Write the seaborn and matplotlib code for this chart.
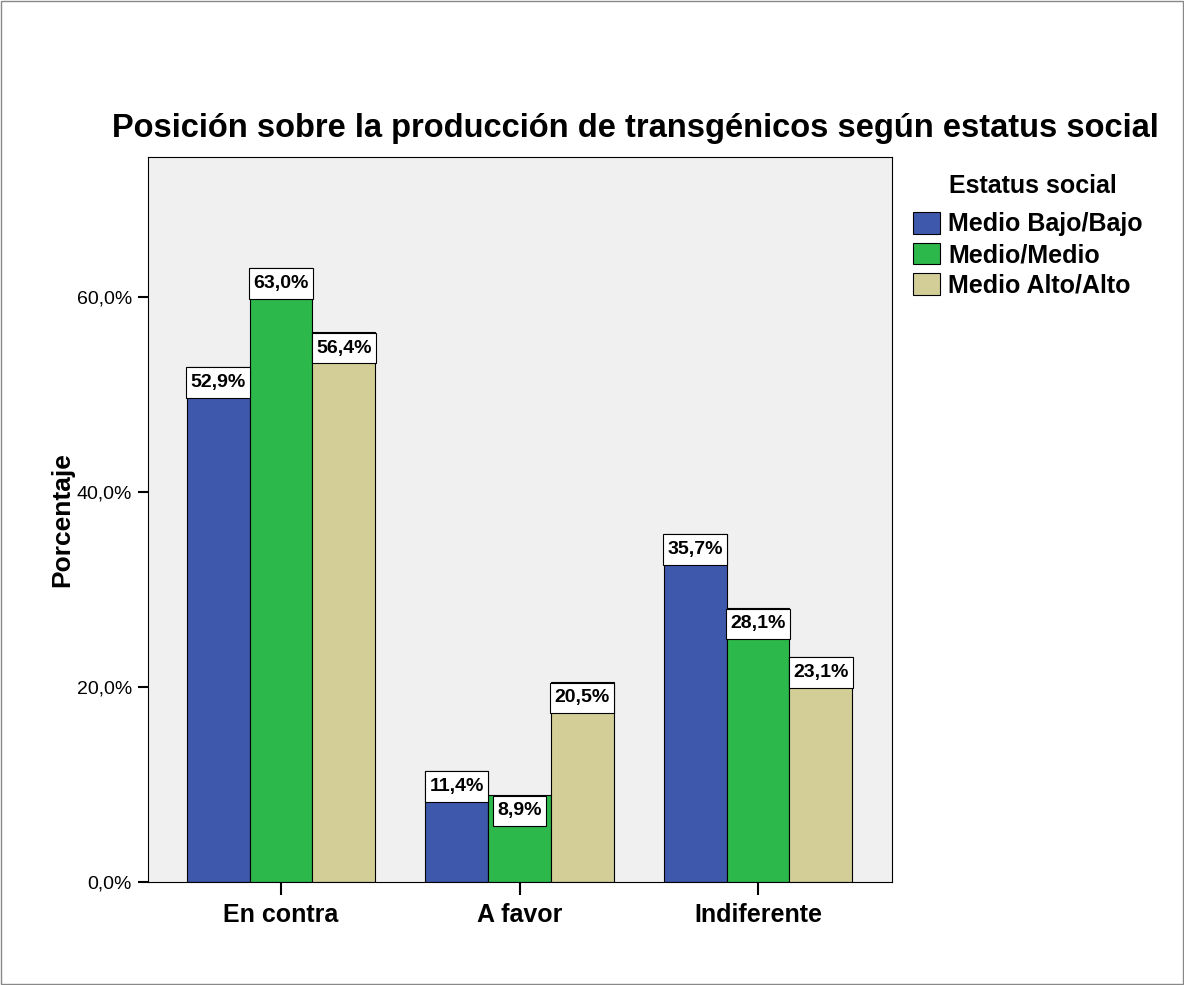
import pandas as pd
import matplotlib.pyplot as plt
import matplotlib.patches as mpatches
import seaborn as sns

# Datos
posiciones = ["En contra", "A favor", "Indiferente"]
estatus = ["Medio Bajo/Bajo", "Medio/Medio", "Medio Alto/Alto"]
medio_bajo = [52.9, 11.4, 35.7]
medio = [63.0, 8.9, 28.1]
medio_alto = [56.4, 20.5, 23.1]
yticks = [0, 20, 40, 60]
colores = ["#3E58AC", "#2DB84B", "#D3CE98"]

df = pd.DataFrame({
    "Posicion": posiciones * 3,
    "Estatus": [e for e in estatus for _ in posiciones],
    "Porcentaje": medio_bajo + medio + medio_alto,
})

sns.set_style("white")
plt.rcParams["font.family"] = ["Liberation Sans", "DejaVu Sans"]
plt.rcParams["text.color"] = "black"
plt.rcParams["axes.labelcolor"] = "black"
plt.rcParams["xtick.color"] = "black"
plt.rcParams["ytick.color"] = "black"

fig = plt.figure(figsize=(11.84, 9.85), dpi=100)
ax = fig.add_axes([0.125, 0.1046, 0.6284, 0.736])
ax.set_facecolor("#F0F0F0")

sns.barplot(data=df, x="Posicion", y="Porcentaje", hue="Estatus",
            order=posiciones, hue_order=estatus, palette=colores,
            width=0.79, gap=0, errorbar=None, edgecolor="black",
            linewidth=0.8, saturation=1, ax=ax)

# Etiquetas de valor (cuadros blancos en la parte superior de cada barra)
for container in ax.containers:
    for bar in container:
        h = bar.get_height()
        x = bar.get_x() + bar.get_width() / 2
        ax.annotate(f"{h:.1f}%".replace(".", ","), xy=(x, h),
                    xytext=(0, -5.2), textcoords="offset points",
                    ha="center", va="top", fontsize=14, fontweight="bold",
                    color="black",
                    bbox=dict(boxstyle="square,pad=0.22", fc="white",
                              ec="black", lw=0.8, mutation_aspect=1.6),
                    zorder=5)

ax.set_xlim(-0.558, 2.562)
ax.set_ylim(0, 74.4)
ax.set_yticks(yticks)
ax.set_yticklabels([f"{v:.1f}%".replace(".", ",") for v in yticks], fontsize=14)
ax.set_xticks(range(len(posiciones)))
ax.set_xticklabels(posiciones, fontsize=18, fontweight="bold")
ax.tick_params(axis="y", direction="out", length=7.5, width=1.5, pad=4, left=True)
ax.tick_params(axis="x", direction="out", length=9.5, width=1.5, pad=6, bottom=True)
ax.set_xlabel("")
ax.set_ylabel("Porcentaje", fontsize=19, fontweight="bold", labelpad=2)
for s in ax.spines.values():
    s.set_visible(True)
    s.set_color("black")
    s.set_linewidth(0.8)

fig.text(0.537, 0.870, "Posición sobre la producción de transgénicos según estatus social",
         ha="center", va="center", fontsize=23.5, fontweight="bold")

# Leyenda
fig.text(949 / 1184, 1 - 186 / 985, "Estatus social", ha="left", va="center",
         fontsize=18, fontweight="bold")
handles = [mpatches.Patch(fc=c, ec="black", lw=0.8) for c in colores]
leg = fig.legend(handles, estatus, loc="upper left",
                 bbox_to_anchor=(913 / 1184, 1 - 212 / 985),
                 frameon=False, prop={"size": 18, "weight": "bold"},
                 handlelength=1.08, handleheight=0.96, handletextpad=0.32,
                 labelspacing=0.25, borderaxespad=0, borderpad=0)

fig.patches.append(mpatches.Rectangle((0.001, 0.001), 0.998, 0.998,
                                      transform=fig.transFigure, fill=False,
                                      ec="#888888", lw=1))

if ax.get_legend() is not None:
    ax.get_legend().remove()

plt.savefig("out.png", dpi=100)
